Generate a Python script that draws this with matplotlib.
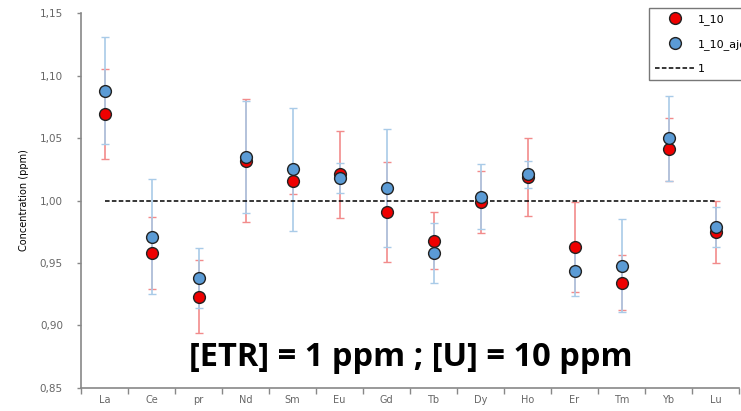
import numpy as np
import matplotlib.pyplot as plt
from matplotlib.ticker import FixedLocator, FuncFormatter

elements = ['La', 'Ce', 'pr', 'Nd', 'Sm', 'Eu', 'Gd', 'Tb', 'Dy', 'Ho', 'Er', 'Tm', 'Yb', 'Lu']

# series 1_10 (red)
red_val = [1.069, 0.958, 0.923, 1.032, 1.016, 1.021, 0.991, 0.968, 0.999, 1.019, 0.963, 0.934, 1.041, 0.975]
red_err = [0.036, 0.029, 0.029, 0.049, 0.011, 0.035, 0.040, 0.023, 0.025, 0.031, 0.036, 0.022, 0.025, 0.025]

# series 1_10_a... (blue)
blue_val = [1.088, 0.971, 0.938, 1.035, 1.025, 1.018, 1.010, 0.958, 1.003, 1.021, 0.944, 0.948, 1.050, 0.979]
blue_err = [0.043, 0.046, 0.024, 0.045, 0.049, 0.012, 0.047, 0.024, 0.026, 0.011, 0.020, 0.037, 0.034, 0.016]

ref_level = 1.0

W, H = 741, 411
fig = plt.figure(figsize=(W / 100, H / 100), dpi=100)
ax = fig.add_axes([81 / W, 1 - 388 / H, 658 / W, 375 / H])

x = np.arange(len(elements))

ax.errorbar(x, red_val, yerr=red_err, fmt='none', ecolor='#f28b8b', elinewidth=1.2,
            capsize=3, capthick=1, zorder=2)
ax.errorbar(x, blue_val, yerr=blue_err, fmt='none', ecolor='#a9cbe8', elinewidth=1.2,
            capsize=3, capthick=1, zorder=2)
ax.plot([x[0], x[-1]], [ref_level, ref_level], ls=(0, (3, 1.5)), color='black', lw=1.1,
        zorder=3, label='1')
ax.plot(x, red_val, 'o', ms=8.5, mfc='#ee0000', mec='#222222', mew=1.0, ls='none',
        zorder=4, label='1_10')
ax.plot(x, blue_val, 'o', ms=8.5, mfc='#5b9bd5', mec='#222222', mew=1.0, ls='none',
        zorder=5, label='1_10_ajout')

ax.set_xlim(-0.5, len(elements) - 0.5)
ax.set_ylim(0.85, 1.15)
ax.set_xticks(x)
ax.set_xticklabels(elements)
ax.xaxis.set_minor_locator(FixedLocator(np.arange(-0.5, len(elements), 1)))
ax.tick_params(axis='x', which='major', length=0, pad=5, labelsize=7, labelcolor='#666666')
ax.tick_params(axis='x', which='minor', length=4, width=1, color='#888888', direction='out')
ax.set_yticks(np.arange(0.85, 1.151, 0.05))
ax.yaxis.set_major_formatter(FuncFormatter(lambda v, p: f'{v:.2f}'.replace('.', ',')))
ax.tick_params(axis='y', length=3, width=1, color='#888888', labelsize=7.5, labelcolor='#666666',
               pad=10)

for s in ['top', 'right']:
    ax.spines[s].set_visible(False)
for s in ['left', 'bottom']:
    ax.spines[s].set_color('#888888')
    ax.spines[s].set_linewidth(1.2)

ax.set_ylabel('Concentration (ppm)', fontsize=7, labelpad=8)

handles, labels = ax.get_legend_handles_labels()
order = [1, 2, 0]
leg = fig.legend([handles[i] for i in order], [labels[i] for i in order],
                 loc='upper left', bbox_to_anchor=(649 / W, 1 - 8 / H), borderaxespad=0,
                 fancybox=False, edgecolor='#777777', fontsize=8, framealpha=1,
                 handlelength=3.5, handletextpad=0.3, borderpad=0.55, labelspacing=1.25)
leg.get_frame().set_linewidth(1)

fig.text(411 / W, 1 - 357 / H, '[ETR] = 1 ppm ; [U] = 10 ppm', ha='center', va='center',
         fontsize=23.5, fontweight='bold', family='Open Sans')

fig.savefig('out.png', dpi=100)
